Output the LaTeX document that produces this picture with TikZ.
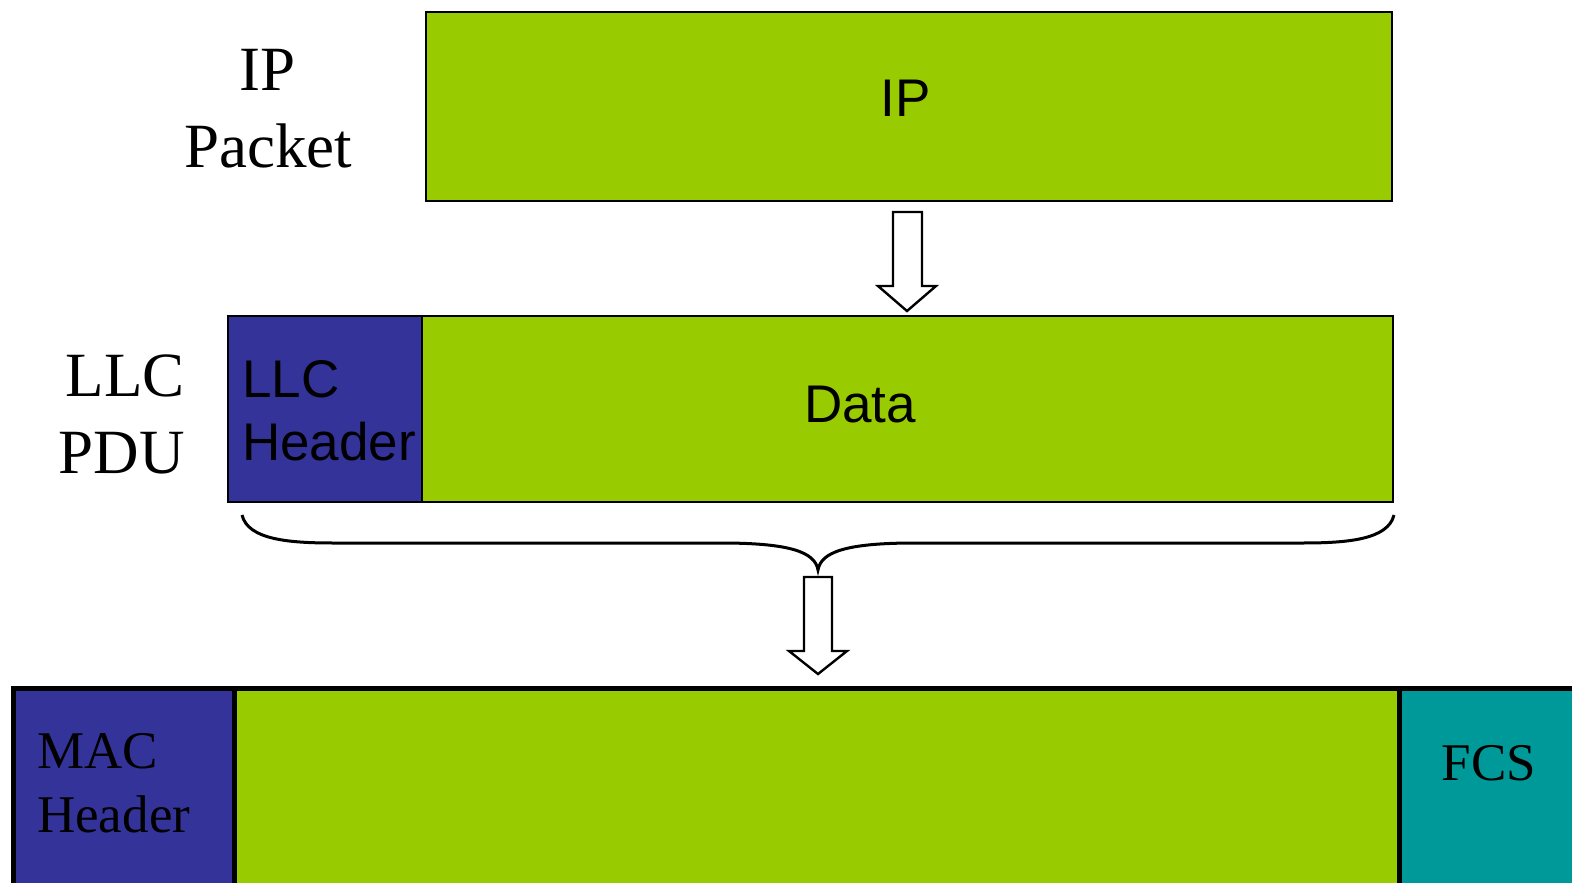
\documentclass[tikz,border=0pt]{standalone}
\usepackage{fontspec}
\setmainfont{Liberation Serif}
\setsansfont{Liberation Sans}
\definecolor{limefill}{HTML}{99CC00}
\definecolor{navyfill}{HTML}{333399}
\definecolor{tealfill}{HTML}{009999}
\begin{document}
\begin{tikzpicture}[x=1pt,y=-1pt,
  topbox/.style={draw=black, line width=2.4pt, inner sep=0pt, anchor=north west},
  botbox/.style={draw=black, line width=4.5pt, inner sep=0pt, anchor=north west, minimum height=230pt},
  sanslbl/.style={font=\sffamily\fontsize{53}{63}\selectfont, inner sep=0pt},
  seriflbl/.style={font=\rmfamily\fontsize{63}{77}\selectfont, inner sep=0pt},
  macfont/.style={font=\rmfamily\fontsize{53}{64}\selectfont, inner sep=0pt},
  blockarrow/.style={draw=black, fill=white, line width=2.4pt, line join=miter},
  bracestyle/.style={draw=black, line width=3pt}]
\useasboundingbox (0,0) rectangle (1572,883);
\clip (0,0) rectangle (1572,883);
% IP packet row
\node[topbox, fill=limefill, minimum width=966pt, minimum height=189pt] (ip) at (425,11) {};
\node[sanslbl, anchor=base] (iptext) at (906,117) {IP};
\node[seriflbl, anchor=base, align=center] (iplabel) at (268,167) {IP\\Packet};
% arrow 1
\draw[blockarrow] (893,212) -- (922,212) -- (922,286) -- (936,286) -- (907,311) -- (878,286) -- (893,286) -- cycle;
% LLC row
\node[topbox, fill=navyfill, minimum width=194pt, minimum height=186pt] (llch) at (227,315) {};
\node[topbox, fill=limefill, minimum width=971pt, minimum height=186pt] (data) at (421,315) {};
\node[sanslbl, anchor=base west, align=left] (llctext) at (242,460) {LLC\\Header};
\node[sanslbl, anchor=base] (datatext) at (860,422) {Data};
\node[seriflbl, anchor=base east, align=right] (llclabel) at (185,473) {LLC\\PDU};
% brace
\draw[bracestyle] (242,515) .. controls (248,540) and (290,543) .. (334,543) -- (721,543)
  .. controls (790,543) and (815,552) .. (818,570)
  .. controls (821,552) and (846,543) .. (915,543) -- (1302,543)
  .. controls (1346,543) and (1388,540) .. (1394,515);
% arrow 2
\draw[blockarrow] (804,577) -- (832,577) -- (832,651) -- (847,651) -- (818,674) -- (789,651) -- (804,651) -- cycle;
% MAC frame row
\node[botbox, fill=navyfill, minimum width=221pt] (mach) at (11,686) {};
\node[botbox, fill=limefill, minimum width=1165pt] (payload) at (232,686) {};
\node[botbox, fill=tealfill, minimum width=200pt] (fcs) at (1397,686) {};
\node[macfont, anchor=base west, align=left] (mactext) at (37,832) {MAC\\Header};
\node[macfont, anchor=base] (fcstext) at (1489,780) {FCS};
\end{tikzpicture}
\end{document}
